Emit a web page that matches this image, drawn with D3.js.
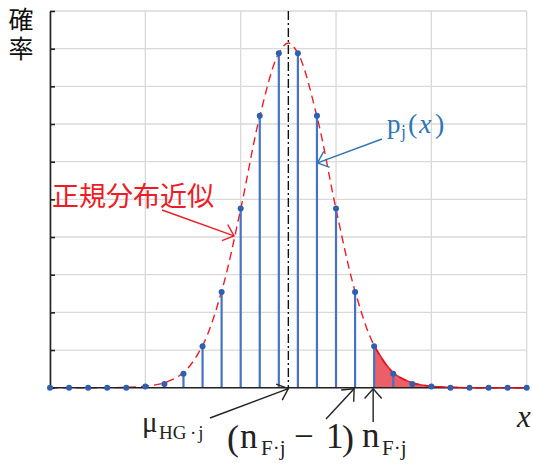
<!DOCTYPE html>
<html>
<head>
<meta charset="utf-8">
<script src="https://cdn.jsdelivr.net/npm/d3@7"></script>
<style>
body { margin: 0; background: #fff; }
</style>
</head>
<body>
<div id="chart"></div>
<script>
// values
var xValues = [0, 1, 2, 3, 4, 5, 6, 7, 8, 9, 10, 11, 12, 13, 14, 15, 16, 17, 18, 19, 20, 21, 22, 23, 24, 25];
var probValues = [0, 0, 0, 0, 0, 0.03, 0.1, 0.37, 1.1, 2.54, 4.76, 7.22, 8.88, 8.88, 7.22, 4.76, 2.54, 1.1, 0.37, 0.1, 0.03, 0, 0, 0, 0, 0];
var curveX = [0, 1, 2, 3, 4, 5, 6, 7, 8, 9, 10, 11, 12, 12.5, 13, 14, 15, 16, 17, 18, 19, 20, 21, 22, 23, 24, 25];
var curveY = [0, 0, 0, 0, 0.01, 0.04, 0.13, 0.4, 1.12, 2.56, 4.74, 7.2, 8.88, 9.15, 8.88, 7.2, 4.74, 2.56, 1.12, 0.4, 0.13, 0.04, 0.01, 0, 0, 0, 0];
var meanX = 12.5;
var shadeFrom = 17;
var xGrid = [0, 5, 10, 15, 20, 25];
var yGrid = [0, 1, 2, 3, 4, 5, 6, 7, 8, 9, 10];

var blue = "#4472c4",
	dotBlue = "#2f5fae",
	textBlue = "#2e75b6",
	red = "#ee1c25";

var svg = d3.select("#chart")
	.append("svg")
	.attr("width", 533)
	.attr("height", 464);

var x = d3.scaleLinear().domain([0, 25]).range([50, 526.7]);
var y = d3.scaleLinear().domain([0, 10]).range([387.7, 11]);

// grid
svg.append("g").selectAll("line")
	.data(xGrid)
	.join("line")
	.attr("x1", d => x(d)).attr("x2", d => x(d))
	.attr("y1", y(0)).attr("y2", y(10))
	.attr("stroke", "#d9d9d9").attr("stroke-width", 1.3);

svg.append("g").selectAll("line")
	.data(yGrid)
	.join("line")
	.attr("x1", x(0)).attr("x2", x(25))
	.attr("y1", d => y(d)).attr("y2", d => y(d))
	.attr("stroke", "#d9d9d9").attr("stroke-width", 1.3);

var curvePts = curveX.map((d, i) => ({x: d, y: curveY[i]}));
var tailPts = curvePts.filter(p => p.x >= shadeFrom);

// shaded tail
svg.append("path")
	.datum(tailPts)
	.attr("d", d3.area().x(d => x(d.x)).y0(y(0)).y1(d => y(d.y)).curve(d3.curveCatmullRom))
	.attr("fill", "#eb5f68");

// normal approximation
svg.append("path")
	.datum(curvePts)
	.attr("d", d3.line().x(d => x(d.x)).y(d => y(d.y)).curve(d3.curveCatmullRom))
	.attr("fill", "none")
	.attr("stroke", red)
	.attr("stroke-width", 1.4)
	.attr("stroke-dasharray", "8,5");

// stems
svg.append("g").selectAll("line")
	.data(xValues.map((d, i) => ({x: d, y: probValues[i]})))
	.join("line")
	.attr("x1", d => x(d.x)).attr("x2", d => x(d.x))
	.attr("y1", y(0)).attr("y2", d => y(d.y))
	.attr("stroke", blue).attr("stroke-width", 2.2);

// mean line
svg.append("line")
	.attr("x1", x(meanX)).attr("x2", x(meanX))
	.attr("y1", y(10)).attr("y2", y(0))
	.attr("stroke", "#111").attr("stroke-width", 1.4)
	.attr("stroke-dasharray", "9,3,2,3");

// axes
var yAxis = d3.axisLeft(y).tickValues(yGrid).tickSizeInner(-5).tickSizeOuter(0).tickFormat("");
svg.append("g")
	.attr("transform", "translate(" + x(0) + ",0)")
	.call(yAxis)
	.call(g => g.selectAll("line,path").attr("stroke", "#222").attr("stroke-width", 1.6));

svg.append("line")
	.attr("x1", x(0)).attr("x2", x(25))
	.attr("y1", y(0)).attr("y2", y(0))
	.attr("stroke", "#222").attr("stroke-width", 1.6);

// solid curve over the shaded tail
svg.append("path")
	.datum(tailPts)
	.attr("d", d3.line().x(d => x(d.x)).y(d => y(d.y)).curve(d3.curveCatmullRom))
	.attr("fill", "none")
	.attr("stroke", "#e0101a")
	.attr("stroke-width", 1.6)
	.attr("stroke-opacity", 0.85);

// points
svg.append("g").selectAll("circle")
	.data(xValues.map((d, i) => ({x: d, y: probValues[i]})))
	.join("circle")
	.attr("cx", d => x(d.x))
	.attr("cy", d => y(d.y))
	.attr("r", 3)
	.attr("fill", dotBlue);

function arrow(x1, y1, x2, y2, color, width) {
	var a = Math.atan2(y1 - y2, x1 - x2);
	var len = 13, spread = 0.72;
	svg.append("line")
		.attr("x1", x1).attr("y1", y1).attr("x2", x2).attr("y2", y2)
		.attr("stroke", color).attr("stroke-width", width);
	svg.append("path")
		.attr("d", "M" + (x2 + len * Math.cos(a - spread)) + "," + (y2 + len * Math.sin(a - spread)) +
			"L" + x2 + "," + y2 +
			"L" + (x2 + len * Math.cos(a + spread)) + "," + (y2 + len * Math.sin(a + spread)))
		.attr("fill", "none")
		.attr("stroke", color).attr("stroke-width", width);
}

// annotations
arrow(162, 210, x(9.65), y(4.03), red, 1.4);
arrow(382, 139, x(14.03), y(5.97), textBlue, 1.4);
arrow(210, 418, x(meanX), y(0) + 1, "#222", 1.4);
arrow(326, 419, x(16) - 1, y(0) + 1, "#222", 1.4);
arrow(x(shadeFrom) - 1, 422, x(shadeFrom) - 1, y(0) + 1, "#222", 1.4);

var cjk = "'Noto Sans CJK JP', sans-serif",
	serif = "'Liberation Serif', 'DejaVu Serif', serif";

function label(tx, ty, str, size, color, font, style) {
	return svg.append("text")
		.attr("x", tx).attr("y", ty)
		.attr("font-family", font)
		.attr("font-size", size)
		.attr("font-style", style || "normal")
		.attr("fill", color)
		.text(str);
}

// y title, written top to bottom
label(21, 7, "確率", 25, "#111", cjk)
	.style("writing-mode", "vertical-rl")
	.attr("letter-spacing", 4);
label(52, 206, "正規分布近似", 27, red, cjk);

label(387, 133, "p", 27, textBlue, serif);
label(401, 138, "j", 18, textBlue, serif);
label(408, 133, "(", 28, textBlue, serif);
label(419, 133, "x", 28, textBlue, serif, "italic");
label(435, 133, ")", 28, textBlue, serif);

label(142, 432, "μ", 29, "#222", serif);
label(159, 439, "HG", 19, "#222", serif);
label(190, 439, "·j", 19, "#222", serif).attr("letter-spacing", 2);

label(227, 450, "(", 36, "#222", serif);
label(240, 448, "n", 35, "#222", serif);
label(261, 455, "F·j", 21, "#222", serif);
label(294, 448, "−", 35, "#222", serif);
label(326, 448, "1", 35, "#222", serif);
label(342, 450, ")", 36, "#222", serif);

label(362, 447, "n", 35, "#222", serif);
label(382, 455, "F·j", 21, "#222", serif);

label(517, 427, "x", 31, "#222", serif, "italic");
</script>
</body>
</html>
